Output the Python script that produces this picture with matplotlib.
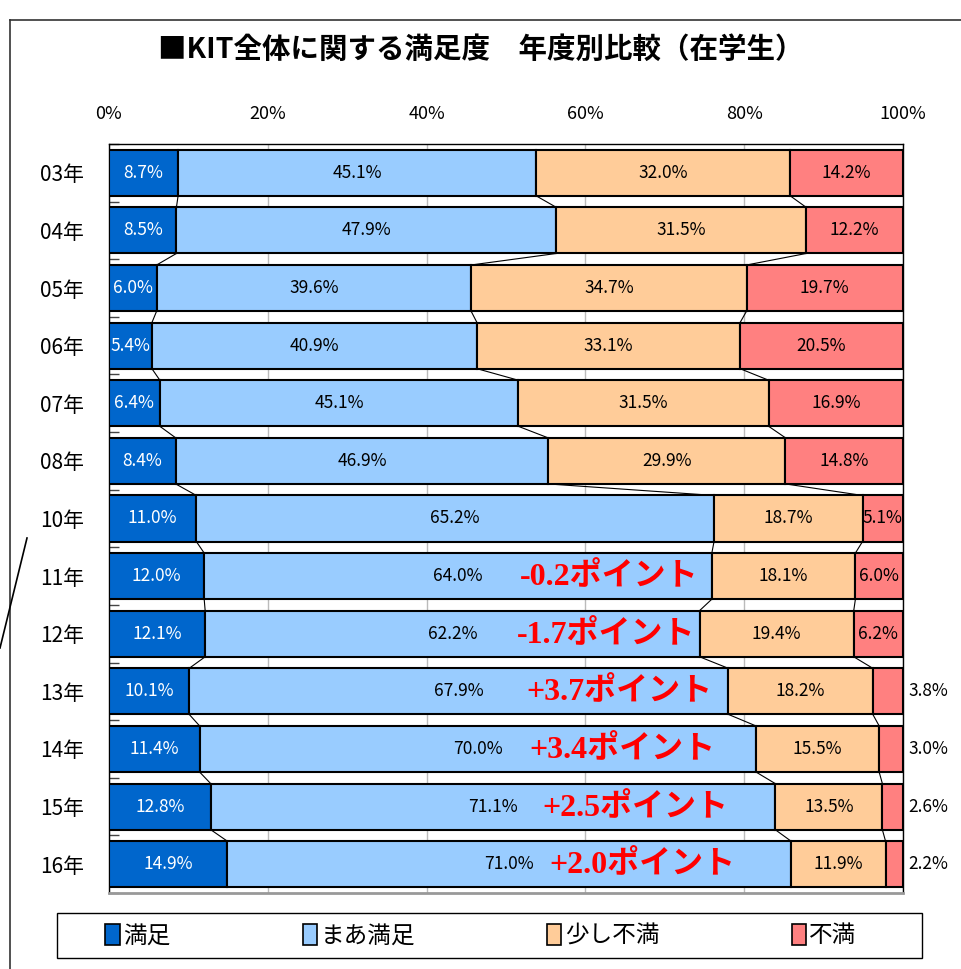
import matplotlib.pyplot as plt
import numpy as np
from matplotlib.lines import Line2D
from matplotlib.patches import Patch, Rectangle

plt.rcParams['font.family'] = ['Noto Sans CJK JP', 'DejaVu Sans']

years = ["03年", "04年", "05年", "06年", "07年", "08年", "10年",
         "11年", "12年", "13年", "14年", "15年", "16年"]
manzoku = [8.7, 8.5, 6.0, 5.4, 6.4, 8.4, 11.0, 12.0, 12.1, 10.1, 11.4, 12.8, 14.9]
maa_manzoku = [45.1, 47.9, 39.6, 40.9, 45.1, 46.9, 65.2, 64.0, 62.2, 67.9, 70.0, 71.1, 71.0]
sukoshi_fuman = [32.0, 31.5, 34.7, 33.1, 31.5, 29.9, 18.7, 18.1, 19.4, 18.2, 15.5, 13.5, 11.9]
fuman = [14.2, 12.2, 19.7, 20.5, 16.9, 14.8, 5.1, 6.0, 6.2, 3.8, 3.0, 2.6, 2.2]
series_names = ["満足", "まあ満足", "少し不満", "不満"]
colors = ["#0066CC", "#99CCFF", "#FFCC99", "#FF8080"]
text_colors = ["white", "black", "black", "black"]

# point differences (red notes) for 11-16
notes = {"11年": "-0.2ポイント", "12年": "-1.7ポイント", "13年": "+3.7ポイント",
         "14年": "+3.4ポイント", "15年": "+2.5ポイント", "16年": "+2.0ポイント"}
note_x = {"11年": 51.8, "12年": 51.4, "13年": 52.6, "14年": 53.0, "15年": 54.6, "16年": 55.5}

data = np.array([manzoku, maa_manzoku, sukoshi_fuman, fuman]).T
share = data / data.sum(axis=1, keepdims=True) * 100
cum = np.hstack([np.zeros((len(years), 1)), np.cumsum(share, axis=1)])

fig = plt.figure(figsize=(9.62, 9.69), dpi=100)
ax = fig.add_axes([109 / 962, 1 - 893 / 969, 794 / 962, 749 / 969])

y = np.arange(len(years))
h = 0.8
for k in range(4):
    ax.barh(y, share[:, k], left=cum[:, k], height=h, color=colors[k],
            edgecolor="black", linewidth=1.5, zorder=3)

# series lines between bars
for i in range(len(years) - 1):
    for k in range(1, 4):
        ax.plot([cum[i, k], cum[i + 1, k]], [i + h / 2, i + 1 - h / 2],
                color="black", linewidth=0.8, zorder=2)

# value labels
for i in range(len(years)):
    for k in range(4):
        val = data[i, k]
        xc = (cum[i, k] + cum[i, k + 1]) / 2
        if k == 3 and i >= 9:
            ax.text(100.7, i, f"{val:.1f}%", ha="left", va="center", fontsize=12.5,
                    color="black", clip_on=False, zorder=5)
        else:
            ax.text(xc, i, f"{val:.1f}%", ha="center", va="center", fontsize=12.5,
                    color=text_colors[k], zorder=5)

for yr, txt in notes.items():
    i = years.index(yr)
    ax.text(note_x[yr], i + 0.02, txt, ha="left", va="center", fontsize=23,
            color="#FF0000", fontweight="bold",
            family=["Liberation Serif", "Noto Sans CJK JP"], zorder=6)

ax.set_xlim(0, 100)
ax.set_ylim(len(years) - 0.5, -0.5)
ax.set_xticks(np.arange(0, 101, 20))
ax.set_xticklabels([f"{v}%" for v in range(0, 101, 20)], fontsize=13)
ax.xaxis.tick_top()
ax.tick_params(axis="x", length=0, pad=15)
ax.set_yticks(y)
ax.set_yticklabels(years, fontsize=15)
ax.tick_params(axis="y", length=0, pad=18)
ax.set_yticks(np.arange(len(years) + 1) - 0.5, minor=True)
ax.tick_params(axis="y", which="minor", direction="in", length=7, width=1, color="#444444")
ax.grid(axis="x", color="#BBBBBB", linewidth=1, zorder=0)
for s in ax.spines.values():
    s.set_color("black")
    s.set_linewidth(1)
ax.spines["bottom"].set_color("#999999")
ax.spines["bottom"].set_linewidth(2)

fig.text(0.5, 1 - 50 / 969, "■KIT全体に関する満足度　年度別比較（在学生）",
         ha="center", va="center", fontsize=20.5, fontweight="bold")

# legend box
fig.add_artist(Rectangle((57 / 962, 1 - 958 / 969), 865 / 962, 45 / 969,
                         transform=fig.transFigure, facecolor="white",
                         edgecolor="black", linewidth=1))
handles = [Patch(facecolor=c, edgecolor="black", linewidth=1.2) for c in colors]
leg = fig.legend(handles, series_names, ncol=4, loc="center",
                 bbox_to_anchor=(0.5, 1 - 935.5 / 969),
                 fontsize=17, frameon=False, handlelength=0.6, handleheight=1.0,
                 handletextpad=0.15, columnspacing=5.6)

# outer frame and stray line
fig.add_artist(Line2D([10 / 962, 10 / 962], [0, 1 - 20 / 969], color="#333333", linewidth=1.2))
fig.add_artist(Line2D([10 / 962, 1], [1 - 20 / 969, 1 - 20 / 969], color="#333333", linewidth=1.2))
fig.add_artist(Line2D([27 / 962, 0], [1 - 538 / 969, 1 - 648 / 969], color="black", linewidth=1.2))

fig.savefig("out.png", dpi=100)
